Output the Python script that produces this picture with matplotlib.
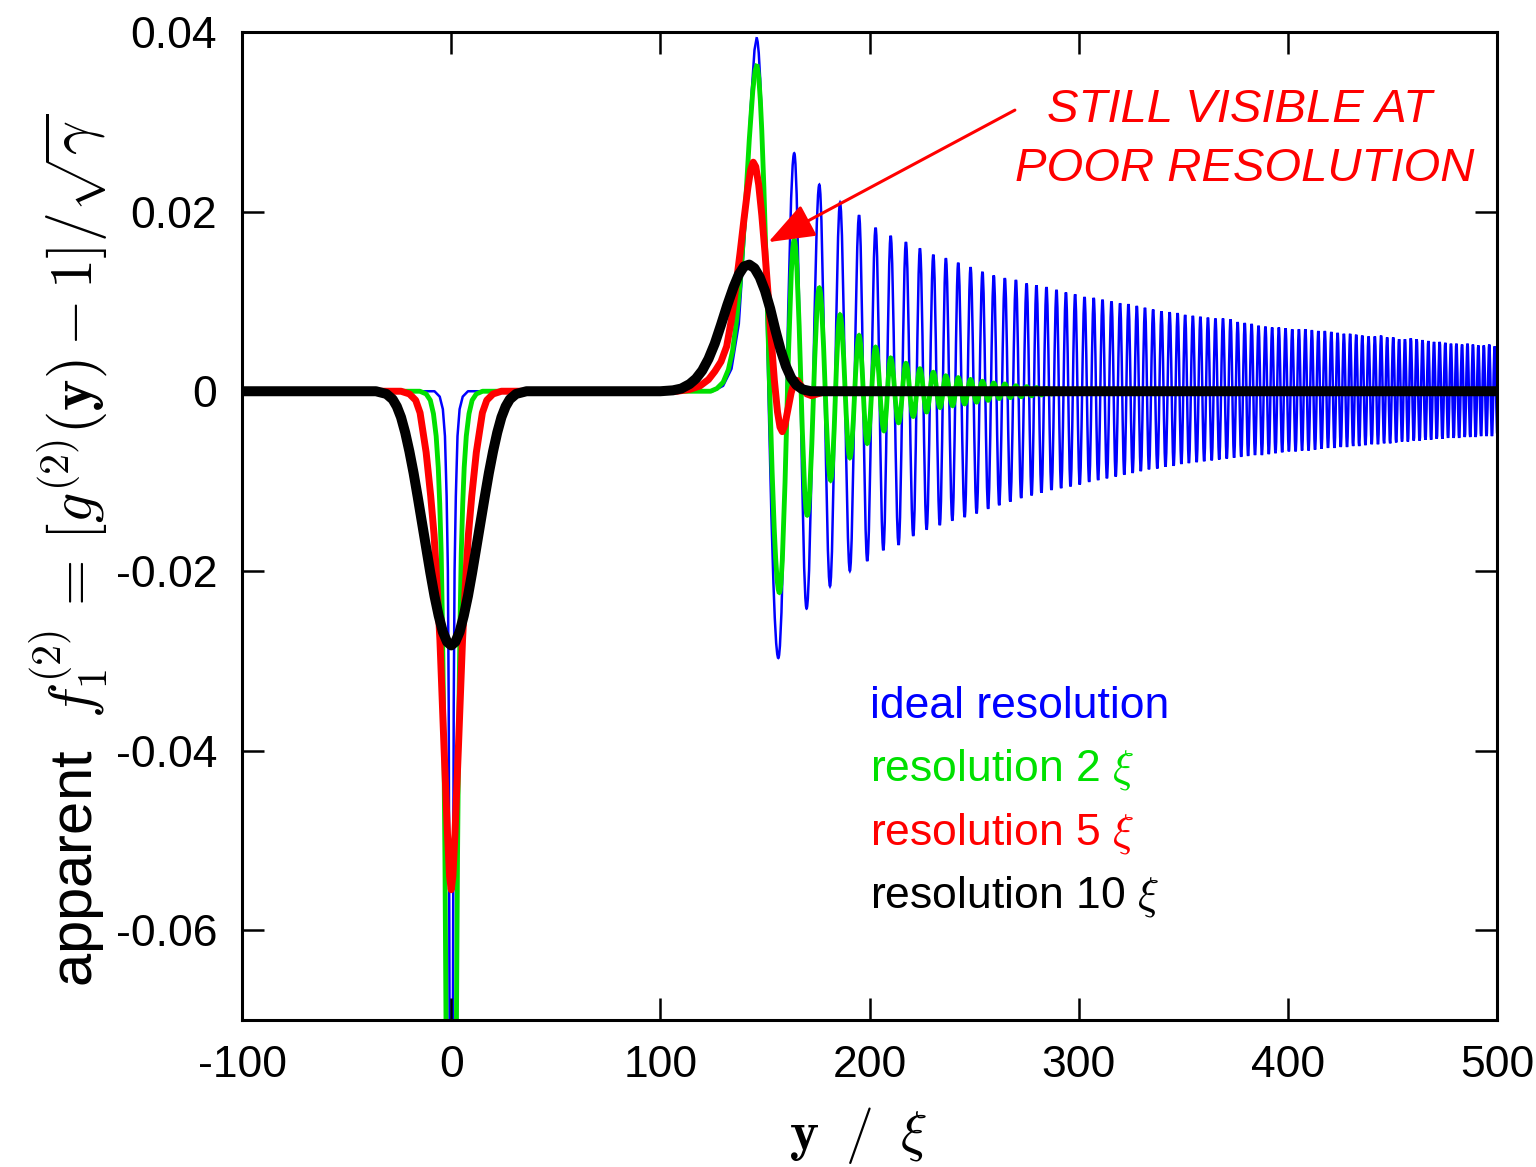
import matplotlib
matplotlib.use("Agg")
import matplotlib.pyplot as plt
from matplotlib.path import Path
from matplotlib.patches import PathPatch

plt.rcParams['font.family'] = ['Liberation Sans', 'DejaVu Sans']
plt.rcParams['mathtext.fontset'] = 'cm'
plt.rcParams['axes.unicode_minus'] = False

# ---- data ----
x_ticks = [-100, 0, 100, 200, 300, 400, 500]
x_tick_labels = ['-100', '0', '100', '200', '300', '400', '500']
y_ticks = [-0.06, -0.04, -0.02, 0.0, 0.02, 0.04]
y_tick_labels = ['-0.06', '-0.04', '-0.02', '0', '0.02', '0.04']

# ideal resolution: dip + rise up to first maximum
blue_x = [-100, -8, -5.5, -4, -3, -2.2, -1.6, -1.2, -0.8, 0, 0.8, 1.2, 1.6, 2.2, 3, 4, 5.5, 8,
          125, 130, 134, 137.5, 140.5, 143, 145, 146]
blue_y = [0, 0, -0.0006, -0.002, -0.005, -0.0117, -0.02, -0.035, -0.07, -0.11, -0.07, -0.035, -0.02,
          -0.0117, -0.005, -0.002, -0.0006, 0, 0, 0.0006, 0.0025, 0.0075, 0.0182, 0.031, 0.0380, 0.0393]

# ideal resolution: oscillation maxima / minima
blue_peak_x = [146.0, 164.0, 176.0, 185.9, 195.0, 202.9, 210.1, 217.4, 224.1, 230.5,
               236.5, 242.4, 248.3, 254.0, 259.4, 264.7, 270.0, 275.1, 279.8, 284.6,
               289.4, 293.9, 298.3, 302.8, 307.2, 311.4, 315.7, 319.8, 323.8, 327.8,
               331.7, 335.6, 339.6, 343.5, 347.3, 350.9, 354.6, 358.2, 361.8, 365.4,
               369.0, 372.6, 376.0, 379.4, 382.7, 386.0, 389.3, 392.5, 395.7, 398.9,
               402.1, 405.3, 408.4, 411.5, 414.6, 417.7, 420.8, 423.8, 426.8, 429.8,
               432.7, 435.6, 438.6, 441.6, 444.6, 447.5, 450.4, 453.2, 456.0, 458.8,
               461.6, 464.4, 467.2, 469.9, 472.6, 475.3, 478.0, 480.6, 483.3, 485.9,
               488.5, 491.1, 493.7, 496.3, 498.9]
blue_peak_y = [0.0393, 0.0265, 0.0230, 0.0210, 0.0196, 0.0182, 0.0173, 0.0166, 0.0159, 0.0152,
               0.0148, 0.0143, 0.0138, 0.0133, 0.0129, 0.0126, 0.0124, 0.0120, 0.0118, 0.0116,
               0.0113, 0.0110, 0.0108, 0.0105, 0.0104, 0.0102, 0.0100, 0.0098, 0.0097, 0.0095,
               0.0093, 0.0091, 0.0089, 0.0088, 0.0087, 0.0085, 0.0084, 0.0083, 0.0082, 0.0081,
               0.0081, 0.0080, 0.0077, 0.0076, 0.0075, 0.0073, 0.0072, 0.0071, 0.0071, 0.0070,
               0.0069, 0.0069, 0.0069, 0.0068, 0.0067, 0.0067, 0.0066, 0.0065, 0.0064, 0.0064,
               0.0063, 0.0062, 0.0061, 0.0061, 0.0062, 0.0060, 0.0060, 0.0058, 0.0058, 0.0059,
               0.0058, 0.0057, 0.0056, 0.0055, 0.0055, 0.0054, 0.0053, 0.0053, 0.0052, 0.0053,
               0.0052, 0.0051, 0.0051, 0.0052, 0.0050]
blue_dip_x = [156.4, 169.9, 181.1, 190.6, 198.9, 206.6, 213.9, 220.9, 227.3, 233.6,
              239.6, 245.5, 251.2, 256.7, 262.0, 267.3, 272.5, 277.5, 282.2, 287.0,
              291.6, 296.1, 300.5, 305.0, 309.3, 313.5, 317.7, 321.8, 325.8, 329.7,
              333.6, 337.6, 341.5, 345.4, 349.1, 352.7, 356.4, 360.0, 363.6, 367.2,
              370.8, 374.3, 377.7, 381.0, 384.3, 387.6, 390.9, 394.1, 397.3, 400.5,
              403.7, 406.8, 409.9, 413.0, 416.1, 419.2, 422.3, 425.3, 428.3, 431.2,
              434.1, 437.1, 440.1, 443.1, 446.0, 448.9, 451.8, 454.6, 457.4, 460.2,
              463.0, 465.8, 468.5, 471.2, 473.9, 476.6, 479.3, 481.9, 484.6, 487.2,
              489.8, 492.4, 495.0, 497.6, 500.2]
blue_dip_y = [-0.0297, -0.0242, -0.0217, -0.0200, -0.0189, -0.0177, -0.0171, -0.0161, -0.0154, -0.0149,
              -0.0144, -0.0140, -0.0136, -0.0131, -0.0127, -0.0123, -0.0119, -0.0116, -0.0113, -0.0110,
              -0.0108, -0.0106, -0.0104, -0.0101, -0.0099, -0.0097, -0.0095, -0.0093, -0.0091, -0.0089,
              -0.0087, -0.0086, -0.0084, -0.0083, -0.0081, -0.0080, -0.0079, -0.0078, -0.0077, -0.0076,
              -0.0075, -0.0074, -0.0073, -0.0072, -0.0071, -0.0071, -0.0070, -0.0069, -0.0068, -0.0067,
              -0.0067, -0.0066, -0.0066, -0.0065, -0.0064, -0.0063, -0.0063, -0.0062, -0.0062, -0.0061,
              -0.0061, -0.0060, -0.0059, -0.0059, -0.0058, -0.0058, -0.0057, -0.0056, -0.0056, -0.0055,
              -0.0055, -0.0054, -0.0054, -0.0053, -0.0053, -0.0052, -0.0052, -0.0052, -0.0051, -0.0051,
              -0.0051, -0.0050, -0.0050, -0.0050, -0.0049]

# resolution 2 xi
green_x = [-100, -15, -12, -10, -8.5, -7.2, -6.2, -5.5, -4.8, -4.2, -3.6, -3.0, -2.5, -1.5, 0,
           1.5, 2.5, 3.0, 3.6, 4.2, 4.8, 5.5, 6.2, 7.2, 8.5, 10, 12, 15,
           124, 127, 130, 132.5, 134.5, 136.5, 138.5, 140.5, 142.5, 144.2, 145.3, 146]
green_y = [0, 0, -0.0003, -0.0010, -0.0025, -0.0050, -0.0085, -0.0125, -0.018, -0.026, -0.037,
           -0.052, -0.07, -0.088, -0.095,
           -0.088, -0.07, -0.052, -0.037, -0.026, -0.018, -0.0125, -0.0085, -0.0050, -0.0025,
           -0.0010, -0.0003, 0,
           0, 0.0003, 0.0010, 0.0024, 0.0045, 0.0080, 0.0130, 0.0200, 0.0280, 0.0335, 0.0357, 0.0362]
green_wave_x = [146.0, 156.9, 164.0, 170.2, 176.0, 181.4, 185.9, 190.6, 195.0, 198.9, 202.9, 206.9,
                210.1, 213.9, 217.4, 220.9, 224.1, 227.3, 230.5, 233.7, 236.5, 239.7, 242.4, 245.5,
                248.3, 251.2, 254.0, 256.7, 259.4, 262.0, 264.7, 267.3, 270.0, 272.5, 275.1, 277.5,
                279.8, 282.2, 284.6, 287.0, 289.4, 291.6, 296.0]
green_wave_y = [0.0362, -0.0224, 0.0168, -0.0138, 0.0115, -0.0099, 0.0085, -0.0074, 0.0062, -0.0058,
                0.0049, -0.0044, 0.0037, -0.0035, 0.0031, -0.0028, 0.0025, -0.0023, 0.0021, -0.0018,
                0.0017, -0.0016, 0.0015, -0.0014, 0.0013, -0.0012, 0.0011, -0.0010, 0.0009, -0.0008,
                0.0008, -0.0007, 0.0006, -0.0006, 0.0005, -0.0005, 0.0004, -0.0004, 0.0003, -0.0003,
                0.0002, -0.0002, 0.0]
green_tail_x = [296.0, 500]
green_tail_y = [0.0, 0.0]

# resolution 5 xi
red_x = [-100, -24, -20, -17, -14.9, -12, -9.8, -8.2, -6.9, -5.4, -3.4, -1.8, -0.8, 0,
         0.8, 1.8, 3.4, 5.4, 6.9, 8.2, 9.8, 12, 14.9, 17, 20, 24,
         108, 114, 119, 123, 126, 129, 131.7, 134, 136, 138.1, 140, 141.8, 143.2, 144.4, 145.6,
         147, 148.5, 150, 151.5, 153, 154.5, 156, 157.2, 158.3, 159.5, 161, 162.5, 164, 165.5,
         167.5, 170, 172.3, 175, 178, 182, 500]
red_y = [0, 0, -0.0003, -0.0010, -0.0024, -0.0068, -0.0117, -0.0160, -0.0211, -0.0277, -0.0399,
         -0.0492, -0.0540, -0.0555,
         -0.0540, -0.0492, -0.0399, -0.0277, -0.0211, -0.0160, -0.0117, -0.0068, -0.0024, -0.0010,
         -0.0003, 0,
         0, 0.0002, 0.0006, 0.0013, 0.0022, 0.0033, 0.0050, 0.0080, 0.0115, 0.0154, 0.0192, 0.0226,
         0.0247, 0.0255, 0.0250, 0.0230, 0.0196, 0.0155, 0.0108, 0.0058, 0.0012, -0.0023, -0.0040,
         -0.0045, -0.0038, -0.0020, -0.0002, 0.0010, 0.0012, 0.0005, -0.0003, -0.0005, -0.0003,
         -0.0001, 0, 0]

# resolution 10 xi
black_x = [-100, -36, -31, -28, -26, -24, -22, -20, -18, -16, -14, -12, -10, -8, -6, -4, -2, 0,
           2, 4, 6, 8, 10, 12, 14, 16, 18, 20, 22, 24, 26, 28, 31, 36,
           100, 106, 110, 114, 117, 120, 123, 126, 129, 132, 135, 137.5, 140, 142.5, 145, 147.5,
           150, 152.5, 155, 157.5, 160, 162.5, 165, 168, 172, 500]
black_y = [0, 0, -0.0003, -0.0009, -0.0017, -0.0029, -0.0046, -0.0067, -0.0091, -0.0118, -0.0146,
           -0.0174, -0.0202, -0.0228, -0.0250, -0.0268, -0.0279, -0.0283,
           -0.0279, -0.0268, -0.0250, -0.0228, -0.0202, -0.0174, -0.0146, -0.0118, -0.0091, -0.0067,
           -0.0046, -0.0029, -0.0017, -0.0009, -0.0003, 0,
           0, 0.0001, 0.0003, 0.0008, 0.0014, 0.0023, 0.0036, 0.0053, 0.0074, 0.0096, 0.0116, 0.0130,
           0.0139, 0.0141, 0.0137, 0.0127, 0.0112, 0.0092, 0.0068, 0.0046, 0.0028, 0.0015, 0.0007,
           0.0002, 0, 0]

labels = ['ideal resolution', 'resolution 2 $\\xi$', 'resolution 5 $\\xi$', 'resolution 10 $\\xi$']
colors = ['#0000ff', '#00e000', '#ff0000', '#000000']


def smooth_wave(ax, xs, ys, **kw):
    # smooth curve through the read extrema (flat tangent at each one)
    verts = [(xs[0], ys[0])]
    codes = [Path.MOVETO]
    for i in range(1, len(xs)):
        h = 0.363 * (xs[i] - xs[i - 1])
        verts += [(xs[i - 1] + h, ys[i - 1]), (xs[i] - h, ys[i]), (xs[i], ys[i])]
        codes += [Path.CURVE4] * 3
    ax.add_patch(PathPatch(Path(verts, codes), fill=False, **kw))


fig = plt.figure(figsize=(15.36, 11.67), dpi=100)
ax = fig.add_axes([0.1576, 0.126, 0.8170, 0.8466])

# blue
ax.plot(blue_x, blue_y, color=colors[0], lw=1.8, zorder=1)
pts = sorted(zip(blue_peak_x + blue_dip_x, blue_peak_y + blue_dip_y))
smooth_wave(ax, [p[0] for p in pts], [p[1] for p in pts], edgecolor=colors[0], lw=1.8, zorder=1)

# green
ax.plot(green_x, green_y, color=colors[1], lw=3.5, zorder=2, solid_joinstyle='round')
smooth_wave(ax, green_wave_x, green_wave_y, edgecolor=colors[1], lw=3.5, zorder=2)
ax.plot(green_tail_x, green_tail_y, color=colors[1], lw=3.5, zorder=2)

# red, black
ax.plot(red_x, red_y, color=colors[2], lw=5, zorder=3, solid_joinstyle='round')
ax.plot(black_x, black_y, color=colors[3], lw=7.2, zorder=4, solid_joinstyle='round')

ax.set_xlim(-100, 500)
ax.set_ylim(-0.07, 0.04)
ax.set_xticks(x_ticks)
ax.set_xticklabels(x_tick_labels)
ax.set_yticks(y_ticks)
ax.set_yticklabels(y_tick_labels)
ax.tick_params(direction='in', length=16, width=1.8, top=True, right=True,
               labelsize=32, pad=18)
for s in ax.spines.values():
    s.set_linewidth(2.2)
    s.set_zorder(5)

# legend as coloured text
for i, (lab, c) in enumerate(zip(labels, colors)):
    ax.text(0.5004, 0.3168 - i * 0.0638, lab, color=c, fontsize=32,
            transform=ax.transAxes, ha='left', va='center')

# annotation
ax.annotate('', xy=(151.6, 0.0166), xytext=(269.5, 0.0313),
            arrowprops=dict(arrowstyle='-|>,head_length=0.8,head_width=0.3',
                            mutation_scale=36, color='red', lw=2.2,
                            shrinkA=0, shrinkB=0))
ax.text(0.7952, 0.9206, 'STILL VISIBLE AT', color='red', fontsize=34, style='italic',
        transform=ax.transAxes, ha='center', va='center')
ax.text(0.7992, 0.8618, 'POOR RESOLUTION', color='red', fontsize=34, style='italic',
        transform=ax.transAxes, ha='center', va='center')

fig.text(0.0450, 0.5287,
         'apparent  $f_1^{(2)}\\,=\\,[g^{(2)}(\\mathbf{y})-1]/\\sqrt{\\gamma}$',
         rotation=90, fontsize=43, ha='center', va='center')
fig.text(0.5586, 0.027, '$\\mathbf{y}\\;\\;/\\;\\;\\xi$', fontsize=40,
         ha='center', va='center')

fig.savefig('out.png', dpi=100)
